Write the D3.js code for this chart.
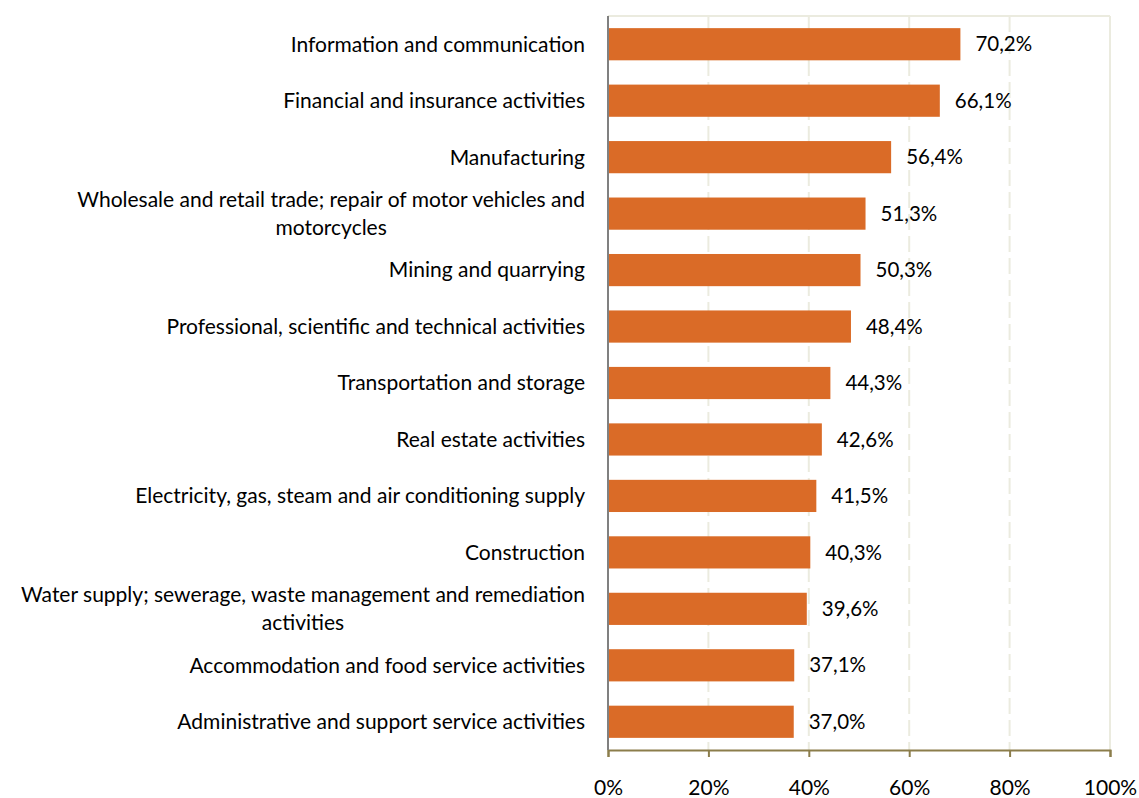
<!DOCTYPE html>
<html lang="en">
<head>
<meta charset="utf-8">
<title>Share by activity</title>
<script src="https://d3js.org/d3.v7.min.js"></script>
<style>
  body { margin: 0; background: #fff; }
  text { font-family: Lato, "Open Sans", sans-serif; fill: #000; }
</style>
</head>
<body>
<script>
// categories, top to bottom ("\n" marks a line break in the label)
var categories = [
  "Information and communication",
  "Financial and insurance activities",
  "Manufacturing",
  "Wholesale and retail trade; repair of motor vehicles and\nmotorcycles",
  "Mining and quarrying",
  "Professional, scientific and technical activities",
  "Transportation and storage",
  "Real estate activities",
  "Electricity, gas, steam and air conditioning supply",
  "Construction",
  "Water supply; sewerage, waste management and remediation\nactivities",
  "Accommodation and food service activities",
  "Administrative and support service activities"
];
var values = [70.2, 66.1, 56.4, 51.3, 50.3, 48.4, 44.3, 42.6, 41.5, 40.3, 39.6, 37.1, 37.0];
var tickValues = [0, 20, 40, 60, 80, 100];

var w = 1139, h = 798;
var plotLeft = 608, plotRight = 1110, plotTop = 16, plotBottom = 750;

var svg = d3.select("body").append("svg")
  .attr("width", w)
  .attr("height", h);

var xScale = d3.scaleLinear().domain([0, 100]).range([plotLeft, plotRight]);
var yScale = d3.scaleBand().domain(categories).range([plotTop, plotBottom]).paddingInner(0.43).paddingOuter(0.215);

var fmt = function(v) { return v.toFixed(1).replace(".", ",") + "%"; };

// gridlines
svg.append("g").selectAll("line")
  .data(tickValues.filter(function(d) { return d > 0 && d < 100; }))
  .enter().append("line")
  .attr("x1", function(d) { return xScale(d); })
  .attr("x2", function(d) { return xScale(d); })
  .attr("y1", plotTop).attr("y2", plotBottom)
  .attr("stroke", "#ebebdf")
  .attr("stroke-width", 2)
  .attr("stroke-dasharray", "16,6");

// frame top and right
svg.append("line")
  .attr("x1", plotLeft).attr("x2", xScale(100))
  .attr("y1", plotTop).attr("y2", plotTop)
  .attr("stroke", "#ebebdf").attr("stroke-width", 2);
svg.append("line")
  .attr("x1", xScale(100)).attr("x2", xScale(100))
  .attr("y1", plotTop).attr("y2", plotBottom)
  .attr("stroke", "#ebebdf").attr("stroke-width", 2);

// bars
svg.append("g").selectAll("rect")
  .data(values)
  .enter().append("rect")
  .attr("x", xScale(0))
  .attr("y", function(d, i) { return yScale(categories[i]); })
  .attr("width", function(d) { return xScale(d) - xScale(0); })
  .attr("height", yScale.bandwidth())
  .attr("fill", "#da6b27");

// value labels
svg.append("g").selectAll("text")
  .data(values)
  .enter().append("text")
  .attr("x", function(d) { return xScale(d) + 15; })
  .attr("y", function(d, i) { return yScale(categories[i]) + yScale.bandwidth() / 2; })
  .attr("dy", "0.35em")
  .style("font-size", "20.5px")
  .text(fmt);

// bottom axis
var xAxis = d3.axisBottom(xScale)
  .tickValues(tickValues)
  .tickFormat(function(d) { return d + "%"; })
  .tickSize(7)
  .tickPadding(23);
var gx = svg.append("g")
  .attr("transform", "translate(0," + plotBottom + ")")
  .call(xAxis);
gx.select(".domain").attr("stroke", "#8b7d4b").attr("stroke-width", 2);
gx.selectAll(".tick line").attr("stroke", "#8b7d4b").attr("stroke-width", 2);
gx.selectAll(".tick text").style("font-size", "21px").attr("fill", "#000");

// left axis line
svg.append("line")
  .attr("x1", plotLeft).attr("x2", plotLeft)
  .attr("y1", plotTop).attr("y2", plotBottom)
  .attr("stroke", "#808080").attr("stroke-width", 2);

// category labels, multi-line labels centred under the longest line
var lineH = 28;
var labels = svg.append("g").selectAll("text")
  .data(categories)
  .enter().append("text")
  .style("font-size", "21px");
labels.each(function(d) {
  var t = d3.select(this);
  var lines = d.split("\n");
  var cy = yScale(d) + yScale.bandwidth() / 2;
  var y0 = cy - (lines.length - 1) * lineH / 2;
  lines.forEach(function(l, i) {
    t.append("tspan").attr("y", y0 + i * lineH).attr("dy", "0.35em").text(l);
  });
  if (lines.length === 1) {
    t.attr("text-anchor", "end");
    t.selectAll("tspan").attr("x", 585);
  } else {
    var maxW = 0;
    t.selectAll("tspan").each(function() { maxW = Math.max(maxW, this.getComputedTextLength()); });
    t.attr("text-anchor", "middle");
    t.selectAll("tspan").attr("x", 585 - maxW / 2);
  }
});
</script>
</body>
</html>
